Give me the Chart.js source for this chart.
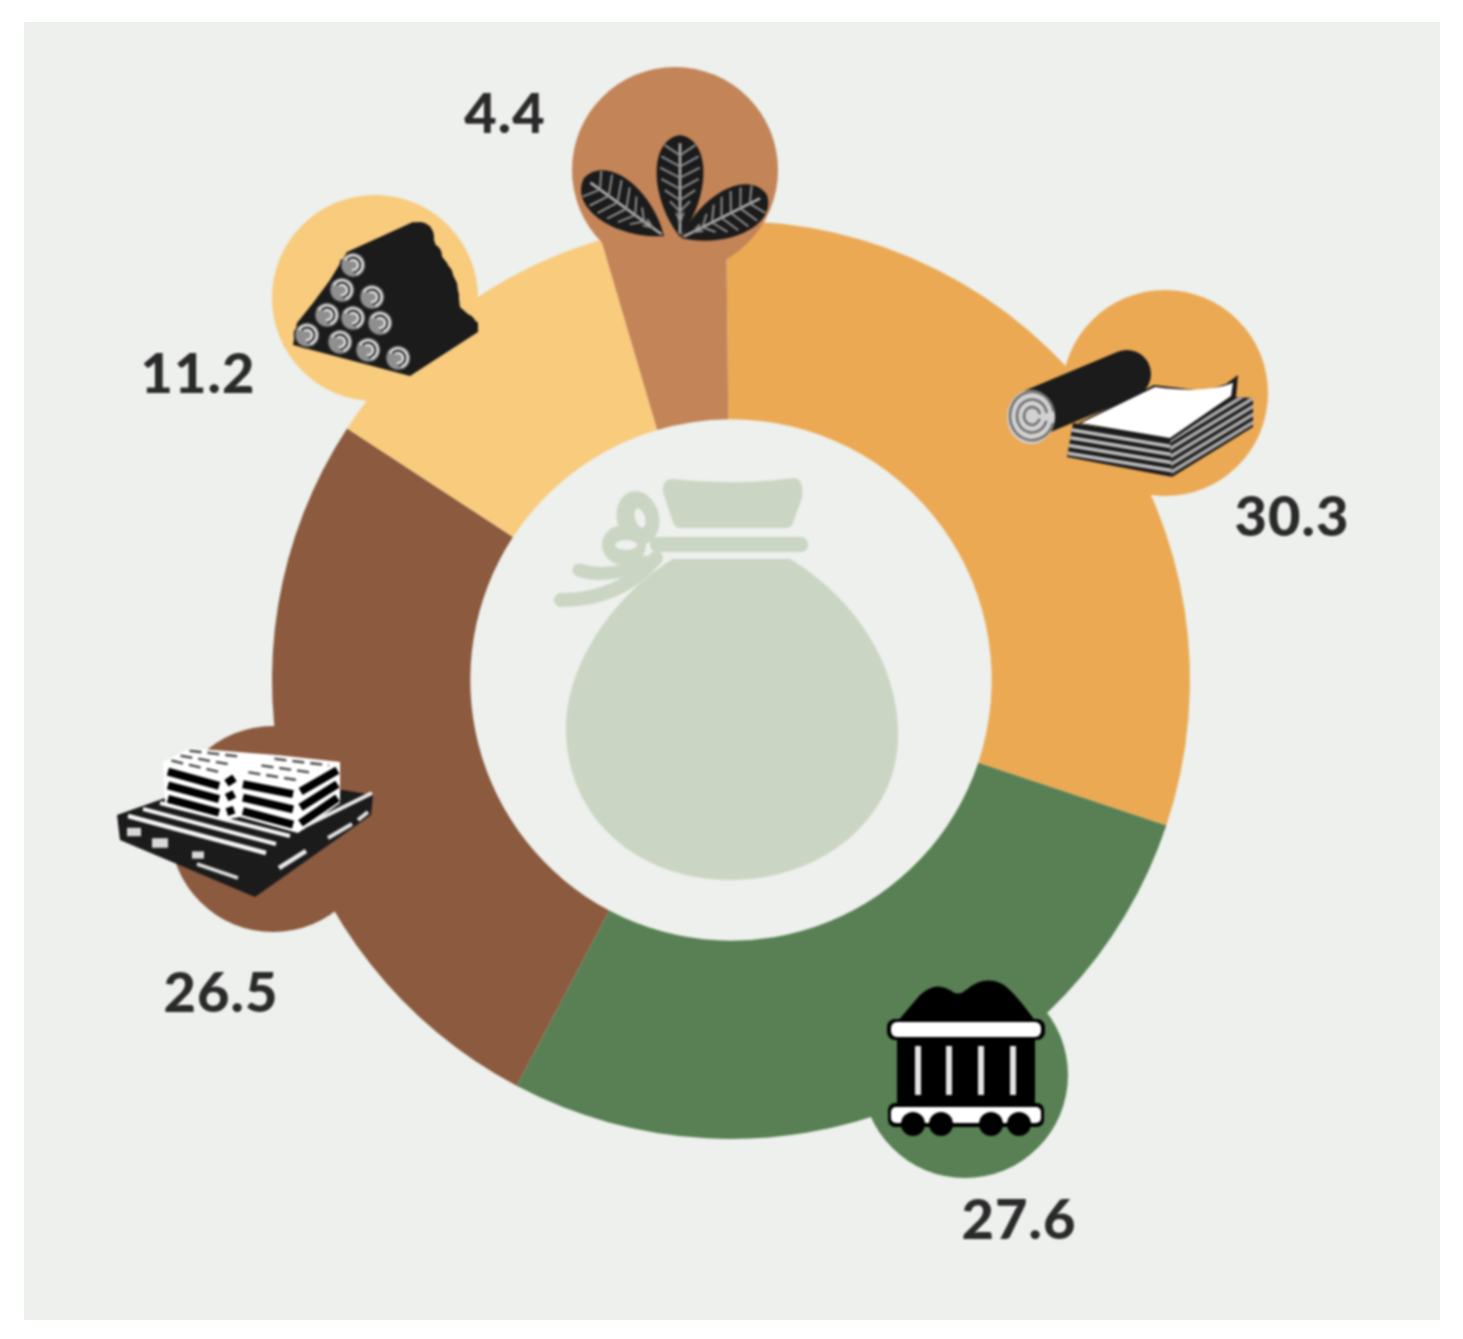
<!DOCTYPE html>
<html><head><meta charset="utf-8">
<script src="https://cdn.jsdelivr.net/npm/chart.js@4"></script>
<style>
html,body{margin:0;padding:0;background:#fff;width:1463px;height:1339px;overflow:hidden}
#panel{position:absolute;left:24px;top:22px;width:1416px;height:1298px;background:#edf0ec}
canvas{position:absolute;left:0;top:0;filter:blur(0.8px)}
</style></head><body>
<div id="panel"></div>
<canvas id="c" width="1463" height="1339"></canvas>
<script>
const categories = ["Paper and pulp","Coal","Wood packaging","Roundwood","Leaves"];
const values = [30.3,27.6,26.5,11.2,4.4];
const colors = ["#eba954","#588054","#8b5a3f","#f8cb7d","#c38458"];
const bubbleOffsetX = [434,234,-458,-356,-56];
const bubbleOffsetY = [-287,395,149,-382,-510];
const labelOffsetX = [561,288,-510,-533,-226];
const labelOffsetY = [-162,541,314,-305,-565];
const BUBBLE_R = 103;
const INK = "#1b1b1b";
const BG = "#edf0ec";
const BAG = "#cad5c3";

function poly(ctx, pts){ctx.beginPath();pts.forEach((p,i)=>i?ctx.lineTo(p[0],p[1]):ctx.moveTo(p[0],p[1]));ctx.closePath();}
function line(ctx,x1,y1,x2,y2,w,col){ctx.strokeStyle=col;ctx.lineWidth=w;ctx.beginPath();ctx.moveTo(x1,y1);ctx.lineTo(x2,y2);ctx.stroke();}

function drawBag(ctx){
  ctx.fillStyle=BAG;
  ctx.beginPath();ctx.moveTo(673,559);ctx.lineTo(790,559);
  ctx.bezierCurveTo(850,595,898,660,898,735);
  ctx.bezierCurveTo(898,820,820,880,730,880);
  ctx.bezierCurveTo(640,880,566,820,566,728);
  ctx.bezierCurveTo(566,660,620,590,673,559);ctx.closePath();ctx.fill();
  ctx.beginPath();ctx.moveTo(671,479);ctx.quadraticCurveTo(735,486,795,478);
  ctx.quadraticCurveTo(804,480,802,498);ctx.lineTo(792,525);ctx.quadraticCurveTo(790,528,785,528);
  ctx.lineTo(680,528);ctx.quadraticCurveTo(675,528,673,522);ctx.lineTo(663,492);ctx.quadraticCurveTo(662,480,671,479);ctx.closePath();ctx.fill();
  ctx.beginPath();ctx.roundRect(650,537,158,15,7);ctx.fill();
  ctx.beginPath();ctx.ellipse(638,518,21,27,-0.25,0,7);ctx.fill();
  ctx.beginPath();ctx.ellipse(624,545,22,20,0,0,7);ctx.fill();
  ctx.strokeStyle=BAG;ctx.lineWidth=13;ctx.lineCap="round";
  ctx.beginPath();ctx.moveTo(579,570);ctx.quadraticCurveTo(610,580,645,562);ctx.stroke();
  ctx.lineWidth=14;
  ctx.beginPath();ctx.moveTo(561,600);ctx.quadraticCurveTo(620,600,656,558);ctx.stroke();
  ctx.lineCap="butt";
  ctx.fillStyle=BG;
  ctx.beginPath();ctx.ellipse(640,518,5,10,-0.3,0,7);ctx.fill();
  ctx.beginPath();ctx.ellipse(626,545,11,5,0,0,7);ctx.fill();
}

function drawPaper(ctx){
  ctx.lineCap="round";line(ctx,1036,412,1127,374,48,INK);ctx.lineCap="butt";
  ctx.fillStyle="#d2d2d2";ctx.beginPath();ctx.ellipse(1031,417,24,27,0,0,7);ctx.fill();
  [22,15,8].forEach(r=>{ctx.strokeStyle="#707070";ctx.lineWidth=2.6;ctx.beginPath();ctx.ellipse(1032,416,r,r*1.1,0,0.3,6.1);ctx.stroke();});
  const left=[[1073,423],[1170,438],[1172,477],[1067,457]], right=[[1170,438],[1233,397],[1253,398],[1253,427],[1172,477]];
  ctx.fillStyle=INK;poly(ctx,left);ctx.fill();poly(ctx,right);ctx.fill();
  ctx.save();poly(ctx,left);ctx.clip();
  for(let i=0;i<5;i++){const y=431+i*8;line(ctx,1060,y-3,1180,y+17,3.6,"#bcbcbc");}
  ctx.restore();
  ctx.save();poly(ctx,right);ctx.clip();
  for(let i=0;i<5;i++){const y=444+i*8;line(ctx,1165,y,1260,y-58,3.6,"#a8a8a8");}
  ctx.restore();
  ctx.fillStyle=INK;poly(ctx,[[1078,423],[1154,385],[1205,391],[1226,384],[1238,375],[1236,397],[1170,441]]);ctx.fill();
  ctx.fillStyle="#fff";ctx.beginPath();ctx.moveTo(1081,423);ctx.lineTo(1155,387);ctx.quadraticCurveTo(1205,394,1233,383);ctx.lineTo(1231,396);ctx.lineTo(1170,438);ctx.closePath();ctx.fill();
}

function drawLogs(ctx){
  ctx.fillStyle=INK;
  poly(ctx,[[347,252],[413,222],[430,226],[437,250],[447,263],[457,283],[460,307],[478,323],[478,332],[410,376],[293,345],[297,323],[313,303],[330,280]]);ctx.fill();
  [[419,237,15],[429,256,13],[440,276,13],[447,296,12],[465,325,11]].forEach(([x,y,r])=>{ctx.beginPath();ctx.arc(x,y,r,0,7);ctx.fill();});
  [[353,265],[342,290],[372,297],[327,315],[353,318],[380,323],[307,335],[340,342],[368,350],[398,358]].forEach(([x,y])=>{
    ctx.fillStyle="#8f8f8f";ctx.beginPath();ctx.arc(x,y,12,0,7);ctx.fill();
    ctx.strokeStyle="#e2e2e2";ctx.lineWidth=2.2;
    ctx.beginPath();ctx.arc(x,y,9.5,-2.6,1.2);ctx.stroke();
    ctx.beginPath();ctx.arc(x,y,5,-2.2,1.8);ctx.stroke();
    ctx.strokeStyle="#222";ctx.lineWidth=1.6;
    ctx.beginPath();ctx.arc(x,y,7.4,-2.4,1.5);ctx.stroke();
    ctx.beginPath();ctx.arc(x,y,12.5,1.2,3.6);ctx.stroke();
  });
}

function leaf(ctx,x1,y1,x2,y2,w){
  const dx=x2-x1,dy=y2-y1,L=Math.hypot(dx,dy);
  ctx.save();ctx.translate(x1,y1);ctx.rotate(Math.atan2(dy,dx));
  ctx.fillStyle=INK;ctx.beginPath();ctx.moveTo(0,0);
  ctx.bezierCurveTo(L*0.05,-w,L*0.62,-w*0.95,L,0);
  ctx.bezierCurveTo(L*0.62,w*0.95,L*0.05,w,0,0);ctx.closePath();ctx.fill();
  line(ctx,L*0.08,0,L*0.97,0,2.6,"#b0b0b0");
  for(let t=0.2;t<0.9;t+=0.11){
    const xx=L*t, h=w*0.62*Math.sin(Math.PI*Math.min(0.95,t+0.08));
    line(ctx,xx,0,xx-L*0.1,-h,2,"#8d8d8d");
    line(ctx,xx,0,xx-L*0.1,h,2,"#8d8d8d");
  }
  ctx.restore();
}
function drawLeaves(ctx){
  leaf(ctx,680,135,680,237,32);
  leaf(ctx,584,178,664,236,33);
  leaf(ctx,767,195,681,238,32);
}

function drawCoal(ctx){
  ctx.fillStyle="#000";
  ctx.beginPath();ctx.moveTo(897,1022);ctx.lineTo(920,995);ctx.quadraticCurveTo(935,981,950,990);
  ctx.quadraticCurveTo(958,997,966,990);ctx.quadraticCurveTo(985,974,1004,985);
  ctx.quadraticCurveTo(1016,994,1036,1022);ctx.closePath();ctx.fill();
  ctx.fillRect(897,1036,138,72);
  ctx.beginPath();ctx.roundRect(887,1019,158,21,8);ctx.fill();
  ctx.fillStyle="#fff";ctx.beginPath();ctx.roundRect(891,1022,150,15,6);ctx.fill();
  ctx.fillStyle="#e4e4e4";[918,949,981,1013].forEach(x=>ctx.fillRect(x-3,1046,6,49));
  ctx.fillStyle="#000";ctx.beginPath();ctx.roundRect(888,1103,156,24,7);ctx.fill();
  ctx.fillStyle="#fff";ctx.beginPath();ctx.roundRect(891,1107,150,16,5);ctx.fill();
  ctx.fillStyle="#000";[913,941,991,1019].forEach(x=>{ctx.beginPath();ctx.arc(x,1124,12,0,7);ctx.fill();});
}

function stripes(ctx,face,count,w,col,inset){
  const [a,b,c,d]=face;
  for(let i=0;i<count;i++){
    const t=(i+0.5)/count;
    const x1=a[0]+(d[0]-a[0])*t,y1=a[1]+(d[1]-a[1])*t,x2=b[0]+(c[0]-b[0])*t,y2=b[1]+(c[1]-b[1])*t;
    const L=Math.hypot(x2-x1,y2-y1),ux=(x2-x1)/L,uy=(y2-y1)/L;
    line(ctx,x1+ux*inset,y1+uy*inset,x2-ux*inset,y2-uy*inset,w,col);
  }
}
function drawPallet(ctx){
  ctx.fillStyle=INK;
  poly(ctx,[[117,815],[165,798],[343,790],[373,795],[371,815],[255,897],[120,840]]);ctx.fill();
  [[128,816,266,853,4.5],[143,809,276,844,4],[160,803,290,836,4],[195,800,305,828,3]].forEach(a=>line(ctx,a[0],a[1],a[2],a[3],a[4],"#f4f4f4"));
  line(ctx,305,826,372,793,4,"#e8e8e8");
  line(ctx,279,868,306,851,4.5,"#e8e8e8");
  line(ctx,328,838,352,824,4,"#e0e0e0");
  line(ctx,358,820,368,812,4,"#e0e0e0");
  [[134,832,7],[160,843,8],[198,855,6]].forEach(([x,y,r])=>{ctx.fillStyle="#d8d8d8";ctx.fillRect(x-r,y-r*0.6,r*2,r*1.2);});
  line(ctx,197,864,238,878,3.5,"#ddd");
  const boxes=[
    {top:[[163,762],[190,748],[250,753],[222,778]],front:[[165,764],[222,780],[222,820],[165,805]],side:[[224,778],[237,768],[237,817],[224,820]]},
    {top:[[238,775],[277,755],[340,762],[297,785]],front:[[240,777],[296,787],[296,833],[240,817]],side:[[298,785],[340,762],[340,803],[298,833]]}
  ];
  ctx.fillStyle="#fff";poly(ctx,[[222,770],[250,753],[277,755],[240,777],[240,817],[222,820]]);ctx.fill();
  boxes.forEach(b=>{
    const all=[b.top[0],b.top[1],b.top[2],b.side[1],b.side[2],b.side[3],b.front[3]];
    ctx.fillStyle="#fff";poly(ctx,all);ctx.fill();
    ctx.setLineDash([12,6]);
    stripes(ctx,[b.top[1],b.top[2],b.top[3],b.top[0]],3,2.6,"#555",4);
    ctx.setLineDash([]);
    stripes(ctx,b.front,3,8,"#000",3);
    stripes(ctx,b.side,3,8,"#000",3);
  });
}

const overlays = {
  id:"overlays",
  beforeDatasetsDraw(chart){
    const a=chart.getDatasetMeta(0).data[0],ctx=chart.ctx;
    ctx.save();ctx.translate(a.x-731,a.y-680);drawBag(ctx);ctx.restore();
  },
  afterDatasetsDraw(chart){
    const a=chart.getDatasetMeta(0).data[0],ctx=chart.ctx;
    ctx.save();
    bubbleOffsetX.forEach((dx,i)=>{
      ctx.fillStyle=colors[i];ctx.beginPath();ctx.arc(a.x+dx,a.y+bubbleOffsetY[i],BUBBLE_R,0,Math.PI*2);ctx.fill();
    });
    ctx.translate(a.x-731,a.y-680);
    drawPaper(ctx);drawCoal(ctx);drawPallet(ctx);drawLogs(ctx);drawLeaves(ctx);
    ctx.restore();
    ctx.save();
    ctx.font='900 56px Lato';ctx.fillStyle="#2a2a2a";ctx.textAlign="center";ctx.textBaseline="middle";
    ctx.letterSpacing="1px";
    values.forEach((v,i)=>ctx.fillText(v.toFixed(1),a.x+labelOffsetX[i],a.y+labelOffsetY[i]));
    ctx.restore();
  }
};

new Chart(document.getElementById("c"),{
  type:"doughnut",
  data:{labels:categories,datasets:[{data:values,backgroundColor:colors,borderWidth:0}]},
  options:{
    responsive:false,animation:false,cutout:"56.8%",rotation:-0.6,
    layout:{padding:{left:272,right:273,top:221,bottom:200}},
    plugins:{legend:{display:false},tooltip:{enabled:false}}
  },
  plugins:[overlays]
});
</script>
</body></html>
